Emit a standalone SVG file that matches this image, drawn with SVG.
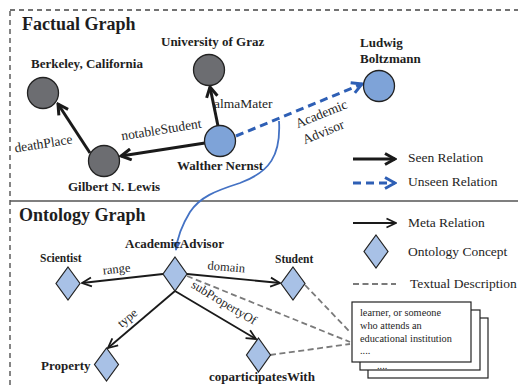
<svg xmlns="http://www.w3.org/2000/svg" width="518" height="389" viewBox="0 0 518 389" font-family="'Liberation Serif', 'Times New Roman', serif">
<style>
text{font-family:"Liberation Serif","Times New Roman",serif;fill:#1e1e1e}
.title{font-size:18px;font-weight:bold}
.nl{font-size:13px;font-weight:bold}
.sl{font-size:11.5px;font-weight:bold}
.el{font-size:13.5px}
.ol{font-size:12.5px}
.lg{font-size:13.5px}
.card{font-size:10.3px}
.gray{fill:#6c6d71;stroke:#222;stroke-width:1.3}
.blue{fill:#7ea3d8;stroke:#222;stroke-width:1.3}
.dia{fill:#a8c1e6;stroke:#222;stroke-width:1.2}
.seen{stroke:#1a1a1a;stroke-width:3;fill:none}
.unseen{stroke:#2e5fb5;stroke-width:3;fill:none;stroke-dasharray:8 5}
.meta{stroke:#1a1a1a;stroke-width:1.8;fill:none}
.txt{stroke:#7a7a7a;stroke-width:1.8;fill:none;stroke-dasharray:6 3.5}
.cardbox{fill:#fff;stroke:#222;stroke-width:1.2}
</style>
<defs>
<marker id="ahSeen" viewBox="0 0 14 14" markerWidth="14" markerHeight="14" refX="12" refY="7" orient="auto" markerUnits="userSpaceOnUse">
<path d="M2,1.5 L12,7 L2,12.5" fill="none" stroke="#1a1a1a" stroke-width="3"/>
</marker>
<marker id="ahUnseen" viewBox="0 0 14 14" markerWidth="14" markerHeight="14" refX="12" refY="7" orient="auto" markerUnits="userSpaceOnUse">
<path d="M2,1.5 L12,7 L2,12.5" fill="none" stroke="#2e5fb5" stroke-width="3"/>
</marker>
<marker id="ahMeta" viewBox="0 0 12 12" markerWidth="12" markerHeight="12" refX="11" refY="6" orient="auto" markerUnits="userSpaceOnUse">
<path d="M1.5,1.5 L11,6 L1.5,10.5" fill="none" stroke="#1a1a1a" stroke-width="1.8"/>
</marker>
<marker id="ahCurve" viewBox="0 0 10 10" markerWidth="9" markerHeight="9" refX="9" refY="5" orient="auto" markerUnits="userSpaceOnUse">
<path d="M0,0.5 L10,5 L0,9.5 z" fill="#4472c4"/>
</marker>
</defs>

<g id="frame">
<rect x="10" y="10" width="530" height="400" fill="none" stroke="#444" stroke-width="1.3" stroke-dasharray="5 4"/>
<line x1="10" y1="201" x2="518" y2="201" stroke="#555" stroke-width="1.6"/>
<text class="title" x="22" y="30">Factual Graph</text>
<text class="title" x="19" y="221">Ontology Graph</text>
</g>

<g id="connectors">
<line class="seen" x1="205" y1="143" x2="121" y2="156" marker-end="url(#ahSeen)"/>
<line class="seen" x1="90" y1="153" x2="58" y2="104" marker-end="url(#ahSeen)"/>
<line class="seen" x1="218" y1="126" x2="210" y2="87" marker-end="url(#ahSeen)"/>
<line class="unseen" x1="236" y1="136" x2="362" y2="84" marker-end="url(#ahUnseen)"/>
<path d="M279,121 C281,155 270,172 240,183 C215,191 200,197 190,212 C182,225 177,240 176,250" fill="none" stroke="#4472c4" stroke-width="1.8" marker-end="url(#ahCurve)"/>
<text class="el" transform="translate(162,134) rotate(-9)" text-anchor="middle">notableStudent</text>
<text class="el" transform="translate(44,148) rotate(-9)" text-anchor="middle">deathPlace</text>
<text class="el" x="214" y="108">almaMater</text>
<text class="el" transform="translate(323,118) rotate(-22)" text-anchor="middle">Academic</text>
<text class="el" transform="translate(325,136) rotate(-22)" text-anchor="middle">Advisor</text>

<line class="meta" x1="163" y1="274" x2="82" y2="283" marker-end="url(#ahMeta)"/>
<line class="meta" x1="187" y1="274" x2="280" y2="283" marker-end="url(#ahMeta)"/>
<line class="meta" x1="175" y1="291" x2="108" y2="348" marker-end="url(#ahMeta)"/>
<line class="meta" x1="175" y1="291" x2="256" y2="339" marker-end="url(#ahMeta)"/>
<line class="txt" x1="187" y1="276" x2="350" y2="342"/>
<line class="txt" x1="305" y1="285" x2="350" y2="332"/>
<line class="txt" x1="270" y1="355" x2="350" y2="344"/>
<text class="ol" transform="translate(117,273) rotate(-6)" text-anchor="middle">range</text>
<text class="ol" transform="translate(226,271) rotate(5)" text-anchor="middle">domain</text>
<text class="ol" transform="translate(130,321) rotate(-40)" text-anchor="middle">type</text>
<text class="ol" transform="translate(222,306) rotate(31)" text-anchor="middle">subPropertyOf</text>
</g>

<g id="berkeley">
<circle class="gray" cx="43" cy="93" r="15.5"/>
<text class="nl" x="31" y="68">Berkeley, California</text>
</g>
<g id="graz">
<circle class="gray" cx="209" cy="70" r="15.5"/>
<text class="nl" x="161" y="46">University of Graz</text>
</g>
<g id="lewis">
<circle class="gray" cx="104" cy="161" r="15.5"/>
<text class="nl" x="68" y="191">Gilbert N. Lewis</text>
</g>
<g id="nernst">
<circle class="blue" cx="220" cy="141" r="15.5"/>
<text class="nl" x="177" y="170">Walther Nernst</text>
</g>
<g id="boltzmann">
<circle class="blue" cx="379" cy="86" r="15.5"/>
<text class="nl" x="360" y="47">Ludwig</text>
<text class="nl" x="360" y="63">Boltzmann</text>
</g>

<g id="academicAdvisor">
<polygon class="dia" points="175,257 187,274 175,291 163,274"/>
<text class="nl" x="125" y="248">AcademicAdvisor</text>
</g>
<g id="scientist">
<polygon class="dia" points="68,267 80,283.5 68,300 56,283.5"/>
<text class="sl" x="40" y="262">Scientist</text>
</g>
<g id="student">
<polygon class="dia" points="293,267 305,283.5 293,300 281,283.5"/>
<text class="sl" x="275" y="263">Student</text>
</g>
<g id="property">
<polygon class="dia" points="106.5,348 118.5,364.5 106.5,381 94.5,364.5"/>
<text class="nl" x="41" y="370">Property</text>
</g>
<g id="coparticipatesWith">
<polygon class="dia" points="258.5,338 270.5,355 258.5,372 246.5,355"/>
<text class="nl" x="209" y="381">coparticipatesWith</text>
</g>

<g id="description">
<rect class="cardbox" x="368" y="318" width="120" height="60"/>
<rect class="cardbox" x="360" y="310" width="120" height="60"/>
<text class="card" x="377" y="369">....</text>
<rect class="cardbox" x="352" y="302" width="119" height="60"/>
<text class="card" x="360" y="316">learner, or someone</text>
<text class="card" x="360" y="329">who attends an</text>
<text class="card" x="360" y="342">educational institution</text>
<text class="card" x="360" y="354">....</text>
</g>

<g id="legend">
<line class="seen" x1="353" y1="159" x2="395" y2="159" marker-end="url(#ahSeen)"/>
<text class="lg" x="408" y="162">Seen Relation</text>
<line class="unseen" x1="353" y1="183" x2="395" y2="183" stroke-dasharray="7 4" marker-end="url(#ahUnseen)"/>
<text class="lg" x="408" y="186">Unseen Relation</text>
<line class="meta" x1="353" y1="223" x2="396" y2="223" marker-end="url(#ahMeta)"/>
<text class="lg" x="408" y="227">Meta Relation</text>
<polygon class="dia" points="376,235 388,251.5 376,268 364,251.5"/>
<text class="lg" x="408" y="256">Ontology Concept</text>
<line class="txt" x1="353" y1="284" x2="396" y2="284" stroke-dasharray="5 3"/>
<text class="lg" x="410" y="288">Textual Description</text>
</g>
</svg>
